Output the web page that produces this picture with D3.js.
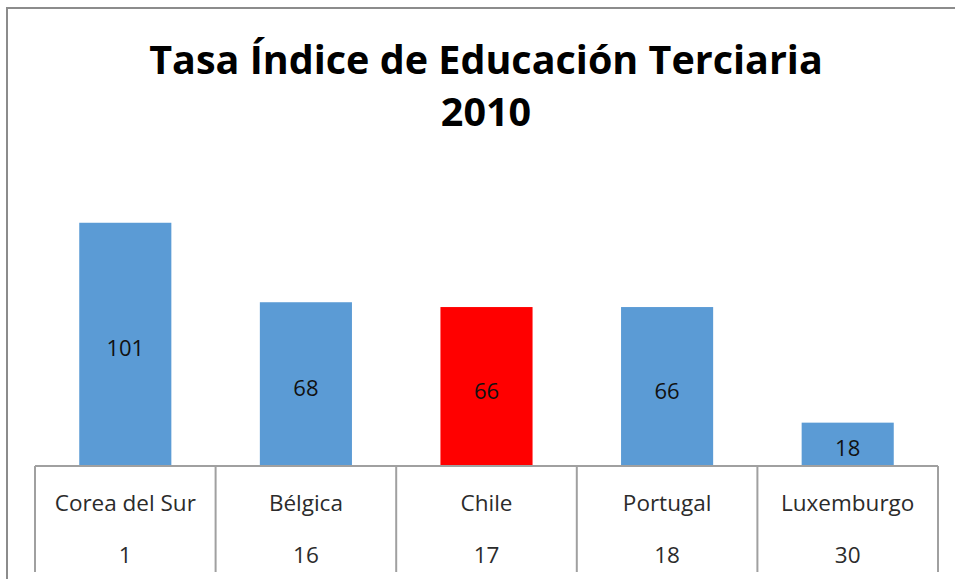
<!DOCTYPE html>
<html>
<head>
<meta charset="utf-8">
<script src="https://cdn.jsdelivr.net/npm/d3@7"></script>
<style>
  html, body { margin: 0; padding: 0; background: #fff; }
  svg { display: block; }
</style>
</head>
<body>
<div id="chart"></div>
<script>
var categories = ['Corea del Sur', 'Bélgica', 'Chile', 'Portugal', 'Luxemburgo'];
var values = [101, 68, 66, 66, 18];
var ranks = ['1', '16', '17', '18', '30'];
var highlight = 'Chile';
var titleLines = ['Tasa Índice de Educación Terciaria', '2010'];

var width = 955,
  height = 579,
  baseY = 466,
  tableBottom = 572,
  left = 35,
  right = 938;

var svg = d3.select('#chart').append('svg')
  .attr('width', width)
  .attr('height', height);

// chart frame (only top and left edges visible)
svg.append('path')
  .attr('d', 'M7,579V8H955')
  .style('fill', 'none')
  .style('stroke', '#8c8c8c')
  .style('stroke-width', 2);

var title = svg.append('text')
  .attr('x', 486)
  .style('text-anchor', 'middle')
  .style('font-family', '"Open Sans", sans-serif')
  .style('font-weight', 'bold')
  .style('font-size', '39.5px')
  .style('fill', '#000');
title.selectAll('tspan').data(titleLines).enter().append('tspan')
  .attr('x', 486)
  .attr('y', function(d, i) { return 74 + i * 52; })
  .text(function(d) { return d; });

var cell = d3.scaleBand()
  .domain(categories)
  .range([left, right])
  .padding(0);

var x = d3.scaleBand()
  .domain(categories)
  .range([left, right])
  .paddingInner(0.49)
  .paddingOuter(0.245);

var y = d3.scaleLinear()
  .domain([0, 120])
  .range([baseY, 177]);

var data = categories.map(function(c, i) {
  return { name: c, value: values[i], rank: ranks[i] };
});

var g = svg.append('g');

g.selectAll('rect.bar').data(data).enter().append('rect')
  .attr('class', 'bar')
  .attr('x', function(d) { return x(d.name); })
  .attr('width', x.bandwidth())
  .attr('y', function(d) { return y(d.value); })
  .attr('height', function(d) { return y(0) - y(d.value); })
  .style('fill', function(d) { return d.name === highlight ? '#ff0000' : '#5b9bd5'; });

g.selectAll('text.val').data(data).enter().append('text')
  .attr('class', 'val')
  .attr('x', function(d) { return x(d.name) + x.bandwidth() / 2; })
  .attr('y', function(d) { return (y(d.value) + y(0)) / 2 + 3; })
  .style('text-anchor', 'middle')
  .style('dominant-baseline', 'central')
  .style('font-family', '"Open Sans", sans-serif')
  .style('font-size', '22px')
  .style('fill', '#111')
  .text(function(d) { return d.value; });

// data table under the axis
var table = svg.append('g')
  .style('stroke', '#a0a0a0')
  .style('stroke-width', 2);
table.append('line')
  .attr('x1', left).attr('x2', right)
  .attr('y1', baseY).attr('y2', baseY);
var edges = categories.map(function(c) { return cell(c); }).concat([right]);
table.selectAll('line.v').data(edges).enter().append('line')
  .attr('class', 'v')
  .attr('x1', function(d) { return d; })
  .attr('x2', function(d) { return d; })
  .attr('y1', baseY)
  .attr('y2', tableBottom);

var cellText = function(cls, yy, fn) {
  svg.selectAll('text.' + cls).data(data).enter().append('text')
    .attr('class', cls)
    .attr('x', function(d) { return cell(d.name) + cell.bandwidth() / 2; })
    .attr('y', yy)
    .style('text-anchor', 'middle')
    .style('dominant-baseline', 'central')
    .style('font-family', '"Open Sans", sans-serif')
    .style('font-size', '22.5px')
    .style('fill', '#2b2b2b')
    .text(fn);
};
cellText('cat', 502, function(d) { return d.name; });
cellText('rank', 554, function(d) { return d.rank; });
</script>
</body>
</html>
